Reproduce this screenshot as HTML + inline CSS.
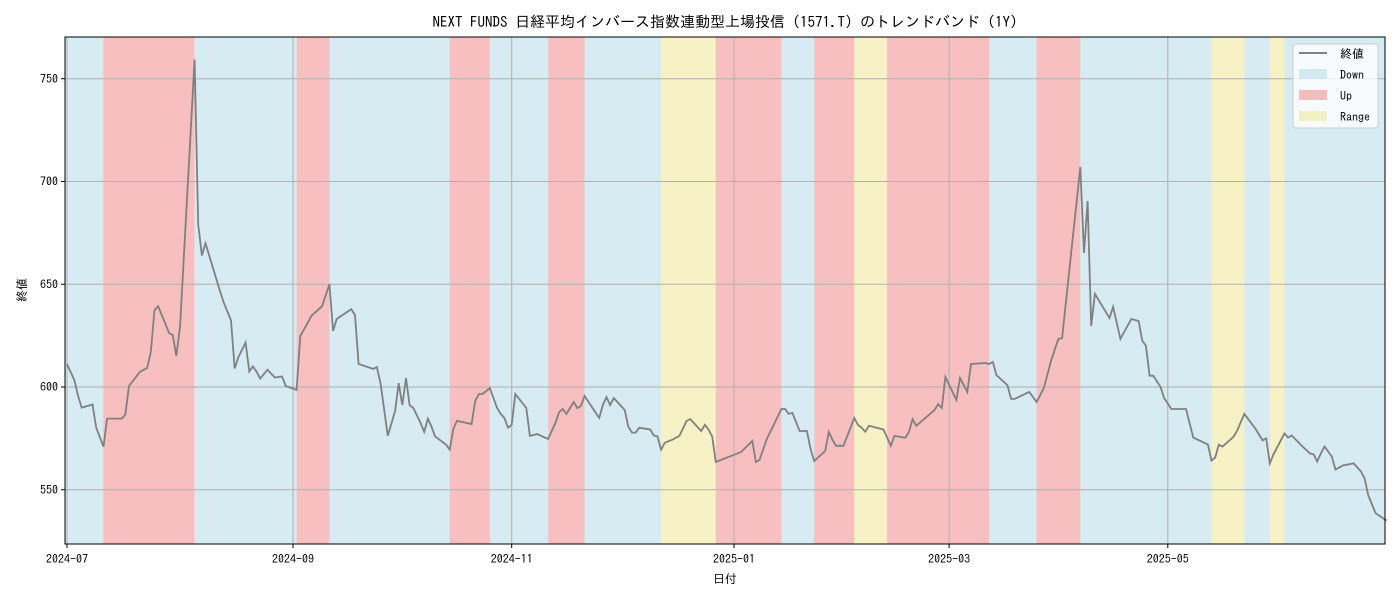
<!DOCTYPE html>
<html><head><meta charset="utf-8"><style>
body{margin:0;background:#fff;}
svg text{font-family:"IPAGothic","Liberation Sans","Noto Sans CJK JP",sans-serif;fill:#000;}
</style></head><body>
<svg id="chart" width="1400" height="600" xmlns="http://www.w3.org/2000/svg">
<text x="725" y="27" font-size="15" text-anchor="middle">NEXT FUNDS 日経平均インバース指数連動型上場投信 (1571.T) のトレンドバンド (1Y)</text>
<g id="bands"></g><g id="grid"></g><g id="line"></g><g id="axes"></g>
<text x="725" y="583" font-size="12" text-anchor="middle">日付</text>
<text x="26" y="290" font-size="12" text-anchor="middle" transform="rotate(-90 26 290)">終値</text>
<g>
<rect x="1293" y="44" width="85" height="84" rx="3" fill="#fff" fill-opacity="0.8" stroke="#ccc"/>
<line x1="1299" y1="53" x2="1327" y2="53" stroke="#808080" stroke-width="2"/>
<text x="1340" y="58" font-size="12">終値</text>
<rect x="1299" y="69" width="28" height="10" fill="#add8e6" fill-opacity="0.5"/>
<text x="1340" y="79" font-size="12">Down</text>
<rect x="1299" y="90" width="28" height="10" fill="#f08080" fill-opacity="0.5"/>
<text x="1340" y="100" font-size="12">Up</text>
<rect x="1299" y="111" width="28" height="10" fill="#f0e68c" fill-opacity="0.5"/>
<text x="1340" y="121" font-size="12">Range</text>
</g>
</svg>
<script>
// days since 2024-07-01
const bandStarts=[-1,10,35,63,72,105,116,132,142,163,178,196,205,216,225,253,266,278,314,323,330,334];
const bandEnds=[10,35,63,72,105,116,132,142,163,178,196,205,216,225,253,266,278,314,323,330,334,362];
const bandTypes=["Down","Up","Down","Up","Down","Up","Down","Up","Down","Range","Up","Down","Up","Range","Up","Down","Up","Down","Range","Down","Range","Down"];
const days=[0,2,3,4,7,8,10,11,15,16,17,20,22,23,24,25,28,29,30,31,35,36,37,38,42,43,45,46,47,49,50,51,52,53,55,57,59,60,63,64,66,67,70,72,73,74,78,79,80,84,85,86,88,90,91,92,93,94,95,97,98,99,100,101,104,105,106,107,111,112,113,114,116,118,119,120,121,122,123,126,127,129,132,134,135,136,137,139,140,141,142,146,147,148,149,150,153,154,155,156,157,160,161,162,163,164,166,168,170,171,174,175,176,177,178,185,188,189,190,192,196,197,198,199,201,203,204,205,208,209,210,211,213,216,217,218,219,220,224,226,227,230,231,232,233,238,239,240,241,242,244,245,247,248,252,253,254,255,258,259,260,264,266,268,270,272,273,278,279,280,281,282,286,287,289,292,294,295,296,297,298,300,301,303,307,309,313,314,315,316,317,320,321,323,326,328,329,330,331,334,335,336,339,341,342,343,344,345,347,348,350,353,355,356,357,359,362];
const closes=[611.2,603.4,596,590,591.5,580.2,571,584.6,584.6,586.5,600.5,607.3,609.3,617,637.4,639.3,626.3,625.3,615.1,629.2,759.3,679.1,664,669.9,646.5,641.1,632.4,609,614.4,621.6,607.5,610,607.5,604.1,608.4,604.6,605.1,600.5,598.6,624.8,631.1,634.5,639.3,650,627.3,633.1,637.9,635,611.2,608.8,609.7,601.9,576.2,588.3,601.9,591.2,604.4,591.2,589.8,582.5,578.2,584.6,580.7,575.9,571.9,569.5,579.7,583.5,582,593.2,596.6,596.6,599.5,589.8,586.9,584.9,580.2,581.6,596.6,589.8,576.2,577.1,574.7,582.5,587.8,589.3,586.9,592.7,589.8,590.7,595.6,584.9,591.2,595.1,591.2,594.6,588.8,580.7,577.8,577.8,580.2,579.3,576.4,575.9,569.5,572.9,574.3,576.2,583.5,584.4,578.6,581.6,579.3,575.9,563.5,568.4,573.7,563.5,564.5,574.7,589.3,589.3,586.9,587.4,578.6,578.6,569.8,564,568.9,578.1,574.3,571.4,571.4,584.9,581.5,580.2,578.2,581.1,579.3,571.4,576.2,575.3,578.2,584.4,581.1,588.8,591.7,589.8,604.9,601,593.7,604.4,597.6,611.2,611.7,611.2,612.2,605.8,600.9,594.2,594.2,597.6,592.7,599.5,613.1,623.4,623.8,707,665.2,690.5,629.7,645.3,633.6,639,623.4,633.1,632.1,622.5,620.1,605.5,605.5,600.1,594.6,589.3,589.3,575.4,572,564.2,565.7,571.9,571,575.7,578.6,586.9,579.8,574,575,562.8,567.2,577.4,575.4,576.4,571,567.7,567.2,563.8,567.7,571,566.2,559.8,561.8,562.8,558.9,555.5,547.2,538.6,535];
const xTickDays=[0,62,122,183,242,302];
const xTickLabels=["2024-07","2024-09","2024-11","2025-01","2025-03","2025-05"];
const yTicks=[550,600,650,700,750];

const L=65,R=1385,T=37,B=544;
const xs=d=>67+d*3.645;
const ys=v=>387-(v-600)*2.055;
const NS="http://www.w3.org/2000/svg";
function mk(tag,parent,attrs){const e=document.createElementNS(NS,tag);for(const k in attrs)e.setAttribute(k,attrs[k]);parent.appendChild(e);return e;}
const colors={Down:"#add8e6",Up:"#f08080",Range:"#f0e68c"};
const gB=document.getElementById("bands");
bandStarts.forEach((s,i)=>{
  const x1=Math.max(L,xs(s)),x2=Math.min(R,xs(bandEnds[i]));
  const r=mk("rect",gB,{x:x1,y:T,width:x2-x1,height:B-T,fill:colors[bandTypes[i]],"fill-opacity":0.5});
  
  
});
const gG=document.getElementById("grid"),gA=document.getElementById("axes");
xTickDays.forEach((d,i)=>{
  const x=xs(d);
  const gl=mk("line",gG,{x1:x,x2:x,y1:T,y2:B,stroke:"#b0b0b0","stroke-width":1});
  
  
  mk("line",gA,{x1:x,x2:x,y1:B,y2:B+4,stroke:"#000"});
  const t=mk("text",gA,{x:x,y:B+19,"font-size":12,"text-anchor":"middle"});
  t.textContent=xTickLabels[i];
  
  
});
yTicks.forEach(v=>{
  const y=ys(v);
  const gl=mk("line",gG,{x1:L,x2:R,y1:y,y2:y,stroke:"#b0b0b0","stroke-width":1});
  
  
  mk("line",gA,{x1:L-4,x2:L,y1:y,y2:y,stroke:"#000"});
  const t=mk("text",gA,{x:L-7,y:y+4,"font-size":12,"text-anchor":"end"});
  t.textContent=v;
  
  
});
const frame=mk("rect",gA,{x:L,y:T,width:R-L,height:B-T,fill:"none",stroke:"#000","stroke-width":1});


const pts=days.map((d,i)=>xs(d).toFixed(1)+","+ys(closes[i]).toFixed(1)).join(" ");
const pl=mk("polyline",document.getElementById("line"),{points:pts,fill:"none",stroke:"#808080","stroke-width":1.8});


</script>
</body></html>
